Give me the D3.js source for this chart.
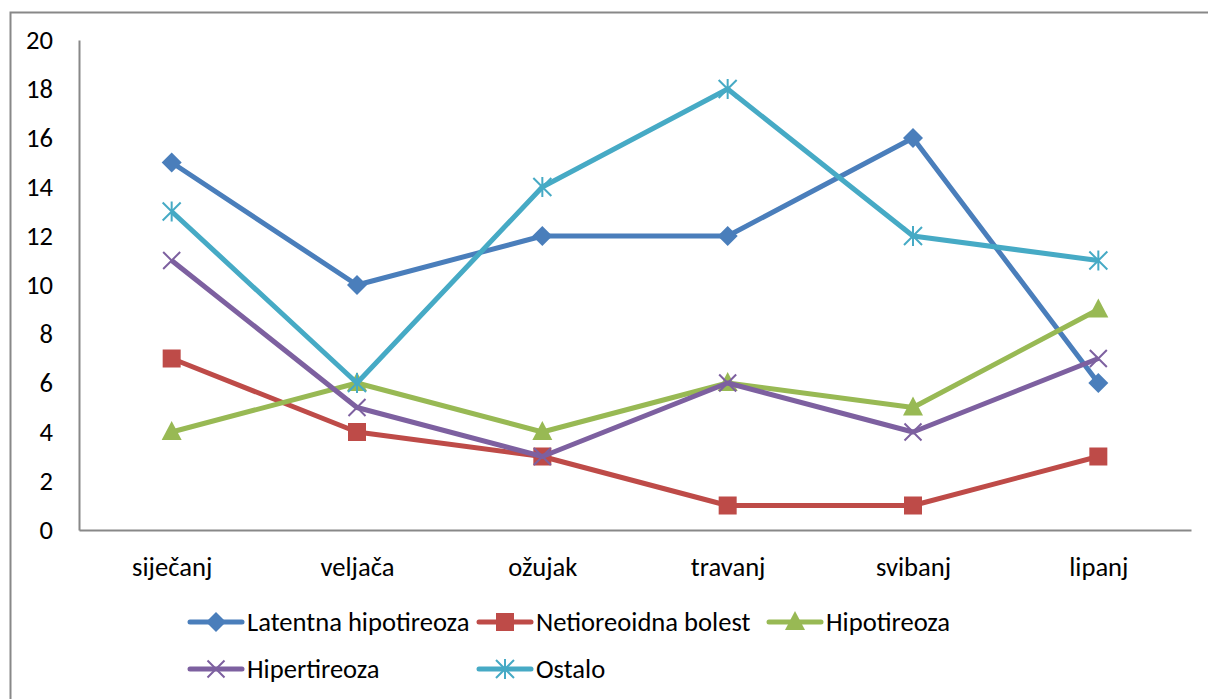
<!DOCTYPE html>
<html>
<head>
<meta charset="utf-8">
<script src="https://cdn.jsdelivr.net/npm/d3@7"></script>
<style>
  body { margin: 0; background: #fff; }
  svg text { font-family: Carlito, "Open Sans", sans-serif; fill: #000; }
</style>
</head>
<body>
<div class="chart"></div>
<script>
'use strict'
// Data.
const months = ['siječanj', 'veljača', 'ožujak', 'travanj', 'svibanj', 'lipanj']
const yTicks = [0, 2, 4, 6, 8, 10, 12, 14, 16, 18, 20]
const latentna = [15, 10, 12, 12, 16, 6]
const netioreoidna = [7, 4, 3, 1, 1, 3]
const hipotireoza = [4, 6, 4, 6, 5, 9]
const hipertireoza = [11, 5, 3, 6, 4, 7]
const ostalo = [13, 6, 14, 18, 12, 11]
const seriesNames = ['Latentna hipotireoza', 'Netioreoidna bolest', 'Hipotireoza', 'Hipertireoza', 'Ostalo']

const series = [
  { name: seriesNames[0], values: latentna, color: '#4A7EBB', marker: 'diamond' },
  { name: seriesNames[1], values: netioreoidna, color: '#BE4B48', marker: 'square' },
  { name: seriesNames[2], values: hipotireoza, color: '#98B954', marker: 'triangle' },
  { name: seriesNames[3], values: hipertireoza, color: '#7D60A0', marker: 'x' },
  { name: seriesNames[4], values: ostalo, color: '#46AAC5', marker: 'star' },
]

const W = 1208, H = 699
const margin = { top: 40, right: 17, bottom: 169, left: 79 }
const width = W - margin.left - margin.right
const height = H - margin.top - margin.bottom
const fontSize = '26.6px'

const svg = d3.select('.chart').append('svg')
  .attr('width', W).attr('height', H)

// outer frame
svg.append('rect')
  .attr('x', 10.5).attr('y', 12.5)
  .attr('width', W + 10).attr('height', H + 10)
  .attr('fill', 'none').attr('stroke', '#888').attr('stroke-width', 2)

const g = svg.append('g').attr('transform', `translate(${margin.left}, ${margin.top})`)

const x = d3.scalePoint(months, [0, width]).padding(0.5)
const y = d3.scaleLinear([0, 20], [height, 0])

// axes
const yAxis = d3.axisLeft(y).tickValues(yTicks).tickSize(0).tickPadding(26)
const yAxisDraw = g.append('g').call(yAxis)
yAxisDraw.select('.domain').attr('stroke', '#888').attr('stroke-width', 2)
yAxisDraw.selectAll('text').style('font-size', fontSize)

const xAxis = d3.axisBottom(x).tickSize(0).tickPadding(27)
const xAxisDraw = g.append('g').attr('transform', `translate(0, ${height})`).call(xAxis)
xAxisDraw.select('.domain').attr('stroke', '#888').attr('stroke-width', 2)
xAxisDraw.selectAll('text').style('font-size', fontSize)

// markers
function drawMarker(sel, type, color) {
  if (type === 'diamond') {
    sel.append('path').attr('d', 'M0,-10L10,0L0,10L-10,0Z').attr('fill', color)
  } else if (type === 'square') {
    sel.append('rect').attr('x', -9).attr('y', -9).attr('width', 18).attr('height', 18).attr('fill', color)
  } else if (type === 'triangle') {
    sel.append('path').attr('d', 'M0,-11L10,8L-10,8Z').attr('fill', color)
  } else if (type === 'x') {
    sel.append('path').attr('d', 'M-8.5,-8.5L8.5,8.5M-8.5,8.5L8.5,-8.5').attr('stroke', color).attr('stroke-width', 2).attr('fill', 'none')
  } else if (type === 'star') {
    sel.append('path').attr('d', 'M-9,-9L9,9M-9,9L9,-9M0,-10L0,10').attr('stroke', color).attr('stroke-width', 2).attr('fill', 'none')
  }
}

const line = d3.line().x((d, i) => x(months[i])).y(d => y(d))

series.forEach(s => {
  g.append('path')
    .datum(s.values)
    .attr('d', line)
    .attr('fill', 'none')
    .attr('stroke', s.color)
    .attr('stroke-width', 5)
    .attr('stroke-linejoin', 'round')
  g.selectAll(null)
    .data(s.values)
    .enter()
    .append('g')
    .attr('transform', (d, i) => `translate(${x(months[i])}, ${y(d)})`)
    .each(function () { drawMarker(d3.select(this), s.marker, s.color) })
})

// legend
const legendPos = [[187, 622], [476, 622], [766, 622], [187, 669], [476, 669]]
series.forEach((s, i) => {
  const lg = svg.append('g').attr('transform', `translate(${legendPos[i][0]}, ${legendPos[i][1]})`)
  lg.append('line').attr('x1', 3).attr('x2', 55).attr('y1', 0).attr('y2', 0)
    .attr('stroke', s.color).attr('stroke-width', 5).attr('stroke-linecap', 'round')
  const m = lg.append('g').attr('transform', 'translate(29, 0)')
  drawMarker(m, s.marker, s.color)
  lg.append('text').attr('x', 60).attr('y', 0).attr('dy', '0.35em')
    .style('font-size', fontSize).text(s.name)
})
</script>
</body>
</html>
